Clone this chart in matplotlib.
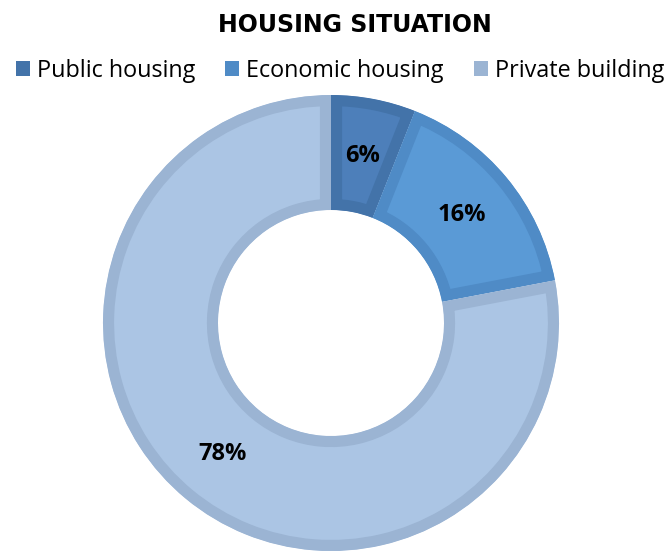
import matplotlib
matplotlib.use('Agg')
import matplotlib.pyplot as plt
from matplotlib.patches import Patch

plt.rcParams['font.family'] = ['Open Sans', 'DejaVu Sans']

labels = ['Public housing', 'Economic housing', 'Private building']
values = [6, 16, 78]
fills = ['#4d7fba', '#5a9ad6', '#abc5e4']
edges = ['#4373a9', '#4f8bc6', '#9bb4d3']

W, H = 670, 551
cx, cy, R, r_hole = 331, 323, 228, 113

fig = plt.figure(figsize=(W / 100, H / 100), dpi=100)
ax = fig.add_axes([0, 0, 1, 1])

wedges, texts, autotexts = ax.pie(
    values, colors=fills, startangle=90, counterclock=False, radius=1,
    autopct='%d%%', pctdistance=0.745,
    wedgeprops=dict(width=(R - r_hole) / R, linewidth=16),
    textprops=dict(fontsize=17, fontweight='bold', color='black'))
ax.set_aspect('auto')
ax.set_xlim(-cx / R, (W - cx) / R)
ax.set_ylim((cy - H) / R, cy / R)
ax.axis('off')

# border drawn inside each wedge only
for w, ec in zip(wedges, edges):
    w.set_edgecolor(ec)
    w.set_joinstyle('miter')
    w.set_clip_on(True)
    w.set_clip_path(w)

fig.text(355 / W, 1 - 25 / H, 'HOUSING SITUATION', ha='center', va='center',
         fontsize=17, fontweight='bold', family='DejaVu Sans')

handles = [Patch(facecolor=c, edgecolor='none') for c in edges]
fig.legend(handles, labels, loc='center', bbox_to_anchor=(340 / W, 1 - 71 / H),
           ncol=3, frameon=False, fontsize=16.8, handlelength=0.6, handleheight=0.6,
           handletextpad=0.3, columnspacing=1.3)

fig.savefig('out.png', dpi=100)
